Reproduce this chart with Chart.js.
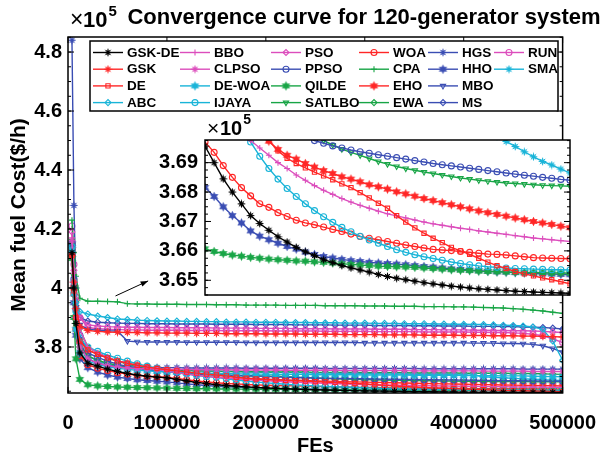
<!DOCTYPE html>
<html>
<head>
<meta charset="utf-8">
<title>Convergence curve for 120-generator system</title>
<script src="https://cdn.jsdelivr.net/npm/chart.js"></script>
<style>
  body { margin: 0; background: #fff; }
  #wrap { position: relative; width: 614px; height: 458px; }
  #mainChart { position: absolute; left: 0; top: 0; }
  #insetChart { position: absolute; left: 150px; top: 112px; }
</style>
</head>
<body>
<div id="wrap">
  <canvas id="mainChart" width="614" height="458"></canvas>
  <canvas id="insetChart" width="428" height="202"></canvas>
</div>
<script>
// mean fuel cost in units of 1e5 $/h, sampled at these FEs
const feValues = [4000, 6000, 8000, 12000, 20000, 30000, 40000, 50000, 60000, 70000, 80000, 90000,
  100000, 110000, 120000, 130000, 140000, 150000, 160000, 170000, 180000, 190000,
  200000, 210000, 220000, 230000, 240000, 250000, 260000, 270000, 280000, 290000,
  300000, 310000, 320000, 330000, 340000, 350000, 360000, 370000, 380000, 390000,
  400000, 410000, 420000, 430000, 440000, 450000, 460000, 470000, 480000, 490000, 500000];

const xTicks = [0, 100000, 200000, 300000, 400000, 500000];
const yTicks = [3.8, 4, 4.2, 4.4, 4.6, 4.8];
const insetTicks = [3.65, 3.66, 3.67, 3.68, 3.69];

const seriesNames = ['GSK-DE', 'GSK', 'DE', 'ABC', 'BBO', 'CLPSO', 'DE-WOA', 'IJAYA', 'PSO', 'PPSO', 'QILDE',
  'SATLBO', 'WOA', 'CPA', 'EHO', 'EWA', 'HGS', 'HHO', 'MBO', 'MS', 'RUN', 'SMA'];

const gskDe = [4.12, 4.00, 3.88, 3.78, 3.745, 3.735, 3.725, 3.717, 3.710, 3.705, 3.701, 3.698,
  3.6956, 3.6900, 3.6845, 3.6800, 3.6760, 3.6720, 3.6693, 3.6670, 3.6648, 3.6630,
  3.6612, 3.6597, 3.6584, 3.6570, 3.6560, 3.6550, 3.6542, 3.6535, 3.6528, 3.6520,
  3.6513, 3.6507, 3.6502, 3.6497, 3.6492, 3.6488, 3.6484, 3.6480, 3.6477, 3.6474,
  3.6471, 3.6469, 3.6467, 3.6465, 3.6463, 3.6462, 3.6460, 3.6459, 3.6458, 3.6457, 3.6456];
const gsk = [4.11, 4.02, 3.93, 3.87, 3.856, 3.853, 3.851, 3.850, 3.849, 3.849, 3.848, 3.848,
  3.847, 3.847, 3.847, 3.846, 3.846, 3.846, 3.845, 3.845, 3.845, 3.845,
  3.844, 3.844, 3.844, 3.844, 3.843, 3.843, 3.843, 3.843, 3.842, 3.842,
  3.842, 3.842, 3.841, 3.841, 3.841, 3.841, 3.840, 3.840, 3.840, 3.840,
  3.839, 3.839, 3.839, 3.838, 3.838, 3.838, 3.837, 3.837, 3.836, 3.835, 3.834];
const de = [4.11, 3.99, 3.90, 3.82, 3.79, 3.775, 3.763, 3.753, 3.745, 3.738, 3.732, 3.727,
  3.723, 3.719, 3.715, 3.7115, 3.708, 3.705, 3.702, 3.6975, 3.694, 3.6915,
  3.6897, 3.6882, 3.6868, 3.6855, 3.6842, 3.6828, 3.6815, 3.6798, 3.678, 3.6762,
  3.6745, 3.672, 3.6698, 3.6678, 3.666, 3.6643, 3.6628, 3.6612, 3.660, 3.6588,
  3.6575, 3.6562, 3.655, 3.654, 3.653, 3.6522, 3.6515, 3.6508, 3.6502, 3.6495, 3.6488];
const abc = [4.12, 4.00, 3.95, 3.92, 3.912, 3.905, 3.900, 3.895, 3.893, 3.891, 3.890, 3.889,
  3.888, 3.888, 3.887, 3.887, 3.886, 3.886, 3.885, 3.885, 3.885, 3.884,
  3.884, 3.884, 3.883, 3.883, 3.883, 3.882, 3.882, 3.882, 3.881, 3.881,
  3.881, 3.880, 3.880, 3.880, 3.879, 3.879, 3.879, 3.878, 3.878, 3.877,
  3.877, 3.876, 3.876, 3.875, 3.874, 3.873, 3.871, 3.868, 3.860, 3.820, 3.755];
const bbo = [4.17, 4.05, 3.95, 3.86, 3.80, 3.78, 3.765, 3.753, 3.745, 3.737, 3.730, 3.724,
  3.718, 3.713, 3.708, 3.704, 3.7005, 3.6975, 3.695, 3.6925, 3.690, 3.688,
  3.6858, 3.684, 3.6822, 3.6806, 3.6792, 3.6778, 3.6766, 3.6755, 3.6745, 3.6735,
  3.6726, 3.6719, 3.6712, 3.6705, 3.6698, 3.6692, 3.6687, 3.6682, 3.6677, 3.6673,
  3.6668, 3.6664, 3.666, 3.6656, 3.6652, 3.6648, 3.6644, 3.6641, 3.6638, 3.6635, 3.6632];
const clpso = [4.16, 4.02, 3.90, 3.80, 3.76, 3.745, 3.737, 3.732, 3.729, 3.727, 3.726, 3.725,
  3.724, 3.724, 3.724, 3.723, 3.723, 3.723, 3.723, 3.722, 3.722, 3.722,
  3.722, 3.722, 3.721, 3.721, 3.721, 3.721, 3.721, 3.721, 3.720, 3.720,
  3.720, 3.720, 3.720, 3.720, 3.720, 3.719, 3.719, 3.719, 3.719, 3.719,
  3.719, 3.719, 3.718, 3.718, 3.718, 3.718, 3.718, 3.717, 3.717, 3.717, 3.717];
const deWoa = [4.13, 3.98, 3.86, 3.78, 3.752, 3.740, 3.733, 3.728, 3.724, 3.721, 3.719, 3.717,
  3.715, 3.714, 3.713, 3.712, 3.711, 3.710, 3.710, 3.709, 3.709, 3.708,
  3.708, 3.707, 3.707, 3.707, 3.707, 3.706, 3.706, 3.706, 3.706, 3.706,
  3.705, 3.705, 3.705, 3.705, 3.705, 3.704, 3.704, 3.704, 3.704, 3.704,
  3.703, 3.703, 3.703, 3.703, 3.702, 3.702, 3.702, 3.701, 3.700, 3.6995, 3.699];
const ijaya = [4.14, 4.02, 3.92, 3.83, 3.80, 3.785, 3.772, 3.762, 3.752, 3.743, 3.735, 3.729,
  3.723, 3.716, 3.709, 3.703, 3.6995, 3.697, 3.6922, 3.688, 3.6844, 3.6812,
  3.6785, 3.676, 3.6737, 3.6716, 3.6697, 3.668, 3.6665, 3.665, 3.6637, 3.6626,
  3.6615, 3.6604, 3.6595, 3.6587, 3.658, 3.6574, 3.6568, 3.6562, 3.6557, 3.6553,
  3.6549, 3.6546, 3.6544, 3.6542, 3.654, 3.6539, 3.6538, 3.6537, 3.6536, 3.6536, 3.6535];
const pso = [4.19, 4.06, 3.96, 3.90, 3.875, 3.871, 3.869, 3.868, 3.867, 3.867, 3.866, 3.866,
  3.866, 3.865, 3.865, 3.865, 3.865, 3.864, 3.864, 3.864, 3.864, 3.863,
  3.863, 3.863, 3.863, 3.862, 3.862, 3.862, 3.862, 3.861, 3.861, 3.861,
  3.861, 3.860, 3.860, 3.860, 3.860, 3.859, 3.859, 3.859, 3.858, 3.858,
  3.858, 3.857, 3.857, 3.856, 3.856, 3.855, 3.855, 3.854, 3.853, 3.851, 3.849];
const ppso = [4.15, 4.03, 3.93, 3.84, 3.78, 3.765, 3.752, 3.742, 3.734, 3.728, 3.723, 3.719,
  3.716, 3.713, 3.7105, 3.7085, 3.7068, 3.7054, 3.7042, 3.7032, 3.7023, 3.7015,
  3.7002, 3.699, 3.6975, 3.6966, 3.6957, 3.695, 3.6943, 3.6937, 3.6932, 3.6927,
  3.6922, 3.6917, 3.6912, 3.6907, 3.6902, 3.6897, 3.6893, 3.6889, 3.6885, 3.6881,
  3.6877, 3.6873, 3.6869, 3.6865, 3.6861, 3.6857, 3.6854, 3.685, 3.6847, 3.6843, 3.684];
const qilde = [4.10, 3.90, 3.76, 3.69, 3.672, 3.668, 3.666, 3.6645, 3.6635, 3.6625, 3.6618, 3.6612,
  3.6607, 3.6598, 3.6591, 3.6586, 3.6582, 3.6578, 3.6575, 3.6572, 3.657, 3.6568,
  3.6566, 3.6565, 3.6563, 3.6561, 3.6559, 3.6556, 3.6554, 3.6552, 3.655, 3.6548,
  3.6547, 3.6546, 3.6545, 3.6544, 3.6542, 3.654, 3.6538, 3.6536, 3.6534, 3.6533,
  3.6531, 3.653, 3.6529, 3.6528, 3.6527, 3.6527, 3.6526, 3.6526, 3.6525, 3.6525, 3.6524];
const satlbo = [4.16, 4.04, 3.95, 3.86, 3.80, 3.78, 3.765, 3.752, 3.742, 3.734, 3.727, 3.722,
  3.7175, 3.7145, 3.712, 3.7095, 3.7075, 3.7058, 3.7043, 3.703, 3.7021, 3.7016,
  3.7012, 3.7006, 3.6998, 3.6975, 3.696, 3.6946, 3.6935, 3.6925, 3.6914, 3.6904,
  3.6895, 3.6887, 3.688, 3.6874, 3.6868, 3.6863, 3.6858, 3.6853, 3.6848, 3.6844,
  3.684, 3.6837, 3.6834, 3.6831, 3.6829, 3.6827, 3.6825, 3.6823, 3.6822, 3.6821, 3.682];
const woa = [4.11, 3.98, 3.86, 3.77, 3.74, 3.728, 3.72, 3.713, 3.708, 3.704, 3.701, 3.699,
  3.697, 3.6935, 3.689, 3.685, 3.6815, 3.6787, 3.676, 3.6748, 3.673, 3.6717,
  3.6704, 3.6695, 3.6689, 3.6681, 3.6673, 3.6666, 3.6657, 3.6649, 3.6643, 3.6638,
  3.6632, 3.6626, 3.662, 3.6615, 3.661, 3.6605, 3.6603, 3.6601, 3.6598, 3.6595,
  3.6592, 3.6589, 3.6588, 3.6586, 3.6583, 3.658, 3.6577, 3.6576, 3.6575, 3.6574, 3.6573];
const cpa = [4.23, 4.12, 4.04, 3.965, 3.955, 3.955, 3.954, 3.953, 3.947, 3.946, 3.946, 3.945,
  3.945, 3.945, 3.944, 3.944, 3.944, 3.943, 3.943, 3.943, 3.942, 3.942,
  3.942, 3.942, 3.941, 3.941, 3.941, 3.941, 3.940, 3.940, 3.940, 3.940,
  3.939, 3.939, 3.939, 3.938, 3.938, 3.938, 3.937, 3.937, 3.937, 3.936,
  3.936, 3.935, 3.934, 3.933, 3.932, 3.930, 3.928, 3.925, 3.922, 3.918, 3.914];
const eho = [4.13, 4.00, 3.90, 3.82, 3.79, 3.775, 3.762, 3.752, 3.744, 3.737, 3.731, 3.726,
  3.722, 3.718, 3.714, 3.7105, 3.707, 3.704, 3.7008, 3.6973, 3.6945, 3.6925,
  3.6912, 3.6897, 3.6885, 3.6873, 3.6863, 3.6852, 3.6844, 3.6835, 3.6825, 3.6818,
  3.681, 3.6801, 3.6794, 3.6786, 3.6778, 3.6771, 3.6764, 3.6757, 3.675, 3.6743,
  3.6736, 3.673, 3.6724, 3.6718, 3.6712, 3.6706, 3.67, 3.6695, 3.669, 3.6684, 3.6679];
const ewa = [4.15, 4.00, 3.88, 3.80, 3.77, 3.755, 3.745, 3.738, 3.733, 3.729, 3.726, 3.724,
  3.722, 3.721, 3.720, 3.719, 3.718, 3.718, 3.717, 3.717, 3.716, 3.716,
  3.715, 3.715, 3.715, 3.715, 3.715, 3.714, 3.714, 3.714, 3.714, 3.714,
  3.713, 3.713, 3.713, 3.713, 3.713, 3.712, 3.712, 3.712, 3.712, 3.712,
  3.711, 3.711, 3.711, 3.711, 3.711, 3.710, 3.710, 3.710, 3.709, 3.708, 3.707];
const hgs = [4.84, 4.28, 4.00, 3.82, 3.76, 3.745, 3.738, 3.734, 3.732, 3.731, 3.730, 3.730,
  3.730, 3.730, 3.729, 3.729, 3.729, 3.729, 3.729, 3.729, 3.728, 3.728,
  3.728, 3.728, 3.728, 3.728, 3.728, 3.728, 3.727, 3.727, 3.727, 3.727,
  3.727, 3.727, 3.727, 3.727, 3.727, 3.727, 3.726, 3.726, 3.726, 3.726,
  3.726, 3.726, 3.726, 3.726, 3.726, 3.726, 3.725, 3.725, 3.725, 3.725, 3.725];
const hho = [4.15, 3.95, 3.84, 3.76, 3.73, 3.715, 3.705, 3.698, 3.693, 3.689, 3.6865, 3.684,
  3.6816, 3.6785, 3.675, 3.672, 3.6695, 3.6668, 3.665, 3.6638, 3.6626, 3.6615,
  3.6606, 3.6596, 3.6588, 3.6581, 3.6576, 3.6571, 3.6567, 3.6564, 3.6561, 3.6559,
  3.6557, 3.6555, 3.6553, 3.655, 3.6547, 3.6545, 3.6542, 3.6539, 3.6537, 3.6535,
  3.6533, 3.6531, 3.6529, 3.6528, 3.6526, 3.6525, 3.6523, 3.6522, 3.6521, 3.652, 3.6519];
const mbo = [4.14, 4.00, 3.92, 3.875, 3.860, 3.857, 3.855, 3.854, 3.820, 3.818, 3.817, 3.817,
  3.817, 3.817, 3.816, 3.816, 3.816, 3.816, 3.816, 3.816, 3.815, 3.815,
  3.815, 3.815, 3.815, 3.815, 3.815, 3.815, 3.815, 3.815, 3.815, 3.815,
  3.814, 3.814, 3.814, 3.814, 3.814, 3.814, 3.814, 3.814, 3.814, 3.814,
  3.814, 3.813, 3.813, 3.813, 3.812, 3.812, 3.811, 3.809, 3.804, 3.795, 3.782];
const ms = [4.12, 4.01, 3.94, 3.90, 3.888, 3.884, 3.882, 3.881, 3.880, 3.880, 3.879, 3.879,
  3.879, 3.878, 3.878, 3.878, 3.878, 3.877, 3.877, 3.877, 3.877, 3.876,
  3.876, 3.876, 3.876, 3.875, 3.875, 3.875, 3.875, 3.874, 3.874, 3.874,
  3.874, 3.873, 3.873, 3.873, 3.873, 3.872, 3.872, 3.872, 3.871, 3.871,
  3.871, 3.870, 3.870, 3.870, 3.869, 3.869, 3.868, 3.867, 3.866, 3.864, 3.861];
const run = [4.21, 4.08, 3.97, 3.90, 3.866, 3.862, 3.860, 3.859, 3.858, 3.858, 3.857, 3.857,
  3.857, 3.857, 3.856, 3.856, 3.856, 3.856, 3.855, 3.855, 3.855, 3.855,
  3.855, 3.854, 3.854, 3.854, 3.854, 3.854, 3.853, 3.853, 3.853, 3.853,
  3.853, 3.852, 3.852, 3.852, 3.852, 3.852, 3.851, 3.851, 3.851, 3.851,
  3.851, 3.850, 3.850, 3.849, 3.849, 3.848, 3.846, 3.843, 3.838, 3.828, 3.815];
const sma = [4.13, 4.00, 3.90, 3.81, 3.77, 3.752, 3.742, 3.736, 3.732, 3.729, 3.727, 3.725,
  3.7235, 3.722, 3.721, 3.720, 3.719, 3.718, 3.7172, 3.7165, 3.7158, 3.7152,
  3.7146, 3.714, 3.7135, 3.713, 3.7125, 3.712, 3.7115, 3.711, 3.7106, 3.7102,
  3.7098, 3.7094, 3.709, 3.7086, 3.7082, 3.7078, 3.7074, 3.707, 3.7066, 3.7062,
  3.7055, 3.7045, 3.699, 3.6972, 3.6955, 3.6937, 3.692, 3.6904, 3.6892, 3.6878, 3.6865];

const seriesValues = [gskDe, gsk, de, abc, bbo, clpso, deWoa, ijaya, pso, ppso, qilde,
  satlbo, woa, cpa, eho, ewa, hgs, hho, mbo, ms, run, sma];

// where the arrow points from the main curves to the zoomed box (FEs, cost)
const arrowTail = [48000, 3.973];
const arrowHead = [81000, 4.024];

const FONT = '"Liberation Sans", Arial, Helvetica, sans-serif';
const BLACK = '#000000', RED = '#ff2626', PINK = '#dc4dbc', BLUE = '#3a4db3', GREEN = '#18a546', CYAN = '#19b4d8';

// MATLAB-like markers: 'ast' = filled asterisk, 'hex' = filled hexagram
const seriesStyle = [
  {color: BLACK, marker: 'ast'}, {color: RED, marker: 'ast'}, {color: RED, marker: 'rect'}, {color: CYAN, marker: 'rectRot'},
  {color: PINK, marker: 'cross'}, {color: PINK, marker: 'ast'}, {color: CYAN, marker: 'hex'}, {color: CYAN, marker: 'circle'},
  {color: PINK, marker: 'rectRot'}, {color: BLUE, marker: 'circle'}, {color: GREEN, marker: 'hex'}, {color: GREEN, marker: 'triangle', rot: 180},
  {color: RED, marker: 'circle'}, {color: GREEN, marker: 'cross'}, {color: RED, marker: 'hex'}, {color: GREEN, marker: 'rectRot'},
  {color: BLUE, marker: 'ast'}, {color: BLUE, marker: 'hex'}, {color: BLUE, marker: 'triangle', rot: 180}, {color: BLUE, marker: 'rectRot'},
  {color: PINK, marker: 'circle'}, {color: CYAN, marker: 'ast'}
];

function hexagram(color) {
  const c = document.createElement('canvas');
  c.width = c.height = 11;
  const g = c.getContext('2d');
  g.fillStyle = color;
  g.beginPath();
  for (let k = 0; k < 12; k++) {
    const a = -Math.PI / 2 + k * Math.PI / 6;
    const r = k % 2 === 0 ? 4.8 : 2.6;
    g.lineTo(5.5 + r * Math.cos(a), 5.5 + r * Math.sin(a));
  }
  g.closePath();
  g.fill();
  return c;
}

function asterisk(color) {
  const c = document.createElement('canvas');
  c.width = c.height = 9;
  const g = c.getContext('2d');
  g.strokeStyle = color;
  g.fillStyle = color;
  g.lineWidth = 1;
  g.beginPath();
  for (let k = 0; k < 4; k++) {
    const a = k * Math.PI / 4;
    g.moveTo(4.5 - 3.8 * Math.cos(a), 4.5 - 3.8 * Math.sin(a));
    g.lineTo(4.5 + 3.8 * Math.cos(a), 4.5 + 3.8 * Math.sin(a));
  }
  g.stroke();
  g.beginPath();
  g.arc(4.5, 4.5, 2.2, 0, Math.PI * 2);
  g.fill();
  return c;
}

const markerOf = seriesStyle.map(st =>
  st.marker === 'hex' ? hexagram(st.color) : st.marker === 'ast' ? asterisk(st.color) : st.marker);

function buildDatasets() {
  return seriesNames.map((name, i) => {
    const st = seriesStyle[i];
    return {
      label: name,
      data: feValues.map((fe, k) => ({x: fe, y: seriesValues[i][k]})),
      borderColor: st.color,
      backgroundColor: st.color,
      borderWidth: 1.4,
      tension: 0,
      pointStyle: markerOf[i],
      pointRotation: st.rot || 0,
      pointRadius: 3,
      pointBorderWidth: 1.1,
      pointBorderColor: st.color,
      pointBackgroundColor: 'rgba(0,0,0,0)'
    };
  });
}

// box round the axes with inward ticks like MATLAB
const frameTicks = {
  id: 'frameTicks',
  beforeDatasetsDraw(chart, args, opts) {
    if (!opts.fill) return;
    const a = chart.chartArea;
    chart.ctx.save();
    chart.ctx.fillStyle = '#fff';
    chart.ctx.fillRect(a.left, a.top, a.right - a.left, a.bottom - a.top);
    chart.ctx.restore();
  },
  afterDatasetsDraw(chart, args, opts) {
    const {ctx, chartArea: a} = chart;
    const y = chart.scales.y, x = chart.scales.x;
    ctx.save();
    ctx.strokeStyle = '#000';
    ctx.lineWidth = 1;
    ctx.beginPath();
    y.ticks.forEach(t => {
      const p = y.getPixelForValue(t.value);
      ctx.moveTo(a.left, p); ctx.lineTo(a.left + 6, p);
      ctx.moveTo(a.right, p); ctx.lineTo(a.right - 6, p);
    });
    if (opts.yMinor) {
      const step = opts.yMinor;
      for (let k = Math.ceil(y.min / step - 1e-9); k * step <= y.max + 1e-9; k++) {
        const p = y.getPixelForValue(k * step);
        ctx.moveTo(a.left, p); ctx.lineTo(a.left + 3, p);
        ctx.moveTo(a.right, p); ctx.lineTo(a.right - 3, p);
      }
    }
    if (opts.xMajor) {
      x.ticks.forEach(t => {
        const p = x.getPixelForValue(t.value);
        ctx.moveTo(p, a.bottom); ctx.lineTo(p, a.bottom - 6);
        ctx.moveTo(p, a.top); ctx.lineTo(p, a.top + 6);
      });
    }
    ctx.stroke();
    ctx.lineWidth = 1.5;
    ctx.strokeRect(a.left, a.top, a.right - a.left, a.bottom - a.top);
    ctx.restore();
  }
};

function drawTimesTen(ctx, x, y, big) {
  ctx.fillStyle = '#000';
  ctx.textAlign = 'left';
  ctx.textBaseline = 'alphabetic';
  ctx.font = (big + 1) + 'px ' + FONT;
  ctx.fillText('\u00d7', x, y);
  ctx.font = 'bold ' + big + 'px ' + FONT;
  const w = ctx.measureText('10').width;
  ctx.fillText('10', x + 13, y);
  ctx.font = 'bold ' + Math.round(big * 0.68) + 'px ' + FONT;
  ctx.fillText('5', x + 14 + w, y - 11);
}

const mainDecor = {
  id: 'mainDecor',
  afterDraw(chart) {
    const ctx = chart.ctx;
    const x = chart.scales.x, y = chart.scales.y;
    ctx.save();
    // title
    ctx.fillStyle = '#000';
    ctx.font = 'bold 22px ' + FONT;
    ctx.textAlign = 'center';
    ctx.textBaseline = 'middle';
    ctx.fillText('Convergence curve for 120-generator system', 364, 18);
    drawTimesTen(ctx, 70, 27, 22);

    // arrow to the zoomed box
    const x0 = x.getPixelForValue(arrowTail[0]), y0 = y.getPixelForValue(arrowTail[1]);
    const x1 = x.getPixelForValue(arrowHead[0]), y1 = y.getPixelForValue(arrowHead[1]);
    const ang = Math.atan2(y1 - y0, x1 - x0);
    ctx.strokeStyle = '#000';
    ctx.lineWidth = 1;
    ctx.beginPath();
    ctx.moveTo(x0, y0); ctx.lineTo(x1, y1);
    ctx.stroke();
    ctx.beginPath();
    ctx.moveTo(x1, y1);
    ctx.lineTo(x1 - 8 * Math.cos(ang - 0.35), y1 - 8 * Math.sin(ang - 0.35));
    ctx.lineTo(x1 - 8 * Math.cos(ang + 0.35), y1 - 8 * Math.sin(ang + 0.35));
    ctx.closePath();
    ctx.fillStyle = '#000';
    ctx.fill();

    // legend, 6 columns filled top to bottom
    const box = {left: 90, top: 41, right: 558, bottom: 111};
    const colX = [93, 180, 271, 359, 428, 494];
    ctx.fillStyle = '#fff';
    ctx.fillRect(box.left, box.top, box.right - box.left, box.bottom - box.top);
    ctx.strokeStyle = '#000';
    ctx.lineWidth = 1.5;
    ctx.strokeRect(box.left, box.top, box.right - box.left, box.bottom - box.top);
    ctx.font = 'bold 13.5px ' + FONT;
    ctx.textAlign = 'left';
    ctx.textBaseline = 'middle';
    seriesNames.forEach((name, i) => {
      const st = seriesStyle[i];
      const lx = colX[Math.floor(i / 4)];
      const ly = 52.5 + (i % 4) * 16.7;
      ctx.strokeStyle = st.color;
      ctx.lineWidth = 1.4;
      ctx.beginPath();
      ctx.moveTo(lx, ly); ctx.lineTo(lx + 30, ly);
      ctx.stroke();
      ctx.fillStyle = 'rgba(0,0,0,0)';
      ctx.lineWidth = 1.1;
      Chart.helpers.drawPoint(ctx, {pointStyle: markerOf[i], rotation: st.rot || 0, radius: 3, borderWidth: 1.1}, lx + 15, ly);
      ctx.fillStyle = '#000';
      ctx.fillText(name, lx + 34, ly + 0.5);
    });
    ctx.restore();
  }
};

const insetDecor = {
  id: 'insetDecor',
  afterDraw(chart) {
    const ctx = chart.ctx;
    ctx.save();
    drawTimesTen(ctx, 57, 23, 20);
    ctx.restore();
  }
};

const tickFont = {family: FONT, size: 20, weight: 'bold'};

const mainChart = new Chart(document.getElementById('mainChart'), {
  type: 'line',
  data: {datasets: buildDatasets()},
  options: {
    responsive: false,
    animation: false,
    events: [],
    layout: {padding: {left: 0, right: 37, top: 37, bottom: 0}},
    plugins: {
      legend: {display: false},
      tooltip: {enabled: false},
      frameTicks: {yMinor: 0.05, xMajor: true}
    },
    scales: {
      x: {
        type: 'linear',
        min: 0,
        max: 500000,
        afterBuildTicks: s => { s.ticks = xTicks.map(v => ({value: v})); },
        afterFit: s => { s.height = 65; },
        grid: {display: false, drawTicks: false},
        border: {display: false},
        ticks: {padding: 18, color: '#000', font: tickFont, maxRotation: 0, autoSkip: false, callback: v => String(v)},
        title: {display: true, text: 'FEs', color: '#000', font: {family: FONT, size: 20, weight: 'bold'}, padding: 0}
      },
      y: {
        min: 3.644,
        max: 4.851,
        afterBuildTicks: s => { s.ticks = yTicks.map(v => ({value: v})); },
        afterFit: s => { s.width = 68; },
        grid: {display: false, drawTicks: false},
        border: {display: false},
        ticks: {padding: 6, color: '#000', font: tickFont, autoSkip: false, callback: v => String(Number(v.toFixed(2)))},
        title: {display: true, text: 'Mean fuel Cost($/h)', color: '#000', font: {family: FONT, size: 21, weight: 'bold'}, padding: {top: 7, bottom: 0}}
      }
    }
  },
  plugins: [frameTicks, mainDecor]
});

const insetChart = new Chart(document.getElementById('insetChart'), {
  type: 'line',
  data: {datasets: buildDatasets()},
  options: {
    responsive: false,
    animation: false,
    events: [],
    layout: {padding: {left: 0, right: 8, top: 28, bottom: 16}},
    plugins: {
      legend: {display: false},
      tooltip: {enabled: false},
      frameTicks: {fill: true, yMinor: 0.0025}
    },
    scales: {
      x: {type: 'linear', display: false, min: 100000, max: 500000},
      y: {
        min: 3.645,
        max: 3.6977,
        afterBuildTicks: s => { s.ticks = insetTicks.map(v => ({value: v})); },
        afterFit: s => { s.width = 55; },
        grid: {display: false, drawTicks: false},
        border: {display: false},
        ticks: {padding: 7, color: '#000', font: tickFont, autoSkip: false, callback: v => v.toFixed(2)}
      }
    }
  },
  plugins: [frameTicks, insetDecor]
});
</script>
</body>
</html>
